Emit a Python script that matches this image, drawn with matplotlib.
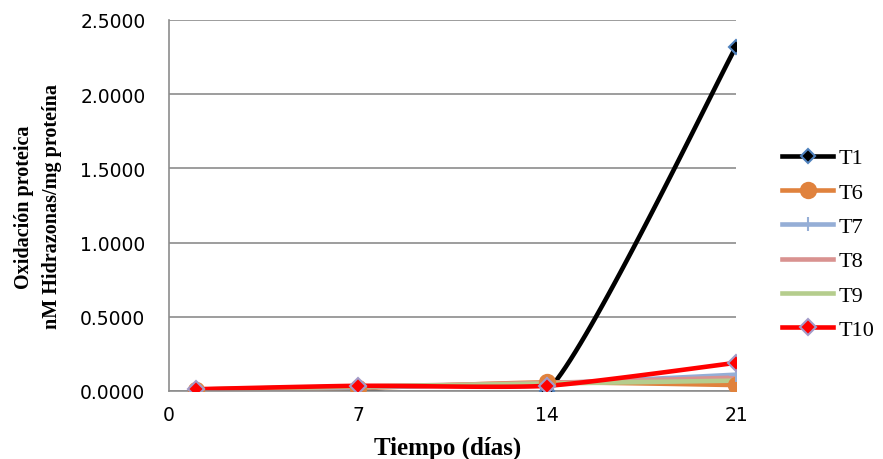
import numpy as np
import matplotlib
matplotlib.use("Agg")
import matplotlib.pyplot as plt
from matplotlib.lines import Line2D
from matplotlib.bezier import BezierSegment

# datos
dias = [1, 7, 14, 21]
series = ["T1", "T6", "T7", "T8", "T9", "T10"]
t1 = [0.010, 0.005, 0.000, 2.320]
t6 = [0.005, 0.020, 0.058, 0.040]
t7 = [0.008, 0.025, 0.050, 0.110]
t8 = [0.010, 0.030, 0.055, 0.090]
t9 = [0.010, 0.030, 0.050, 0.070]
t10 = [0.012, 0.035, 0.035, 0.190]
valores = [t1, t6, t7, t8, t9, t10]

colores = ["#000000", "#E0823D", "#95AED6", "#D99290", "#B5CD8D", "#FF0000"]
marcadores = ["D", "o", "+", "_", None, "D"]
bordes = ["#4F81BD", "#E0823D", "#95AED6", "#D99290", "#B5CD8D", "#A39BC9"]
tamanos = [7, 11, 10, 8, 0, 8]


def suavizar(x, y, n=40, k=10):
    """Linea suavizada estilo Excel: beziers cubicas entre puntos consecutivos."""
    p = np.column_stack([x, y]).astype(float)
    ext = np.vstack([p[0], p, p[-1]])
    out = []
    for i in range(len(p) - 1):
        p0, p1, p2, p3 = ext[i], ext[i + 1], ext[i + 2], ext[i + 3]
        c1 = p1 + (p2 - p0) / k
        c2 = p2 - (p3 - p1) / k
        seg = BezierSegment(np.array([p1, c1, c2, p2]))
        out.append(seg(np.linspace(0, 1, n)))
    pts = np.vstack(out)
    return pts[:, 0], pts[:, 1]


fig = plt.figure(figsize=(8.83, 4.6), dpi=100)
ax = fig.add_axes([169 / 883, 1 - 392 / 460, (736 - 169) / 883, (392 - 21) / 460])

for vals, c, m, e, s in zip(valores, colores, marcadores, bordes, tamanos):
    xs, ys = suavizar(dias, vals)
    ax.plot(xs, ys, color=c, lw=3.3, solid_capstyle="round", zorder=2)
    if m is not None and m != "_":
        ax.plot(dias, vals, ls="none", marker=m, ms=s, color=c, mec=e,
                mew=1.5, zorder=3)

ax.set_xlim(0, 21)
ax.set_ylim(0, 2.5)
ax.set_xticks([0, 7, 14, 21])
ax.set_yticks(np.arange(0, 2.51, 0.5))
ax.yaxis.set_major_formatter(matplotlib.ticker.FormatStrFormatter("%.4f"))
ax.grid(axis="y", color="#8C8C8C", lw=1.2, zorder=0)
ax.set_axisbelow(True)
for sp in ["top", "right"]:
    ax.spines[sp].set_visible(False)
for sp in ["left", "bottom"]:
    ax.spines[sp].set_color("#8C8C8C")
    ax.spines[sp].set_linewidth(1.2)
ax.tick_params(axis="y", length=0, labelsize=13.5, pad=17)
ax.tick_params(axis="x", length=0, labelsize=13.5, pad=10)

fig.text(448 / 883, 1 - 448 / 460, "Tiempo (días)", ha="center", va="center",
         family="Liberation Serif", fontweight="bold", fontsize=18)
fig.text(38 / 883, 1 - 207 / 460, "Oxidación proteica\nnM Hidrazonas/mg proteína",
         ha="center", va="center", rotation=90, family="Liberation Serif",
         fontweight="bold", fontsize=14.5, linespacing=1.5)

handles = []
for nombre, c, m, e, s in zip(series, colores, marcadores, bordes, tamanos):
    handles.append(Line2D([], [], color=c, lw=3.3, marker=m if m else "",
                          ms=s, mec=e, mew=1.5, label=nombre))
fig.legend(handles=handles, loc="center left", bbox_to_anchor=(762 / 883, 1 - 245 / 460),
           frameon=False, prop={"family": "Liberation Serif", "size": 16},
           handlelength=2.3, labelspacing=0.62, handletextpad=0.25)

fig.savefig("out.png", dpi=100)
